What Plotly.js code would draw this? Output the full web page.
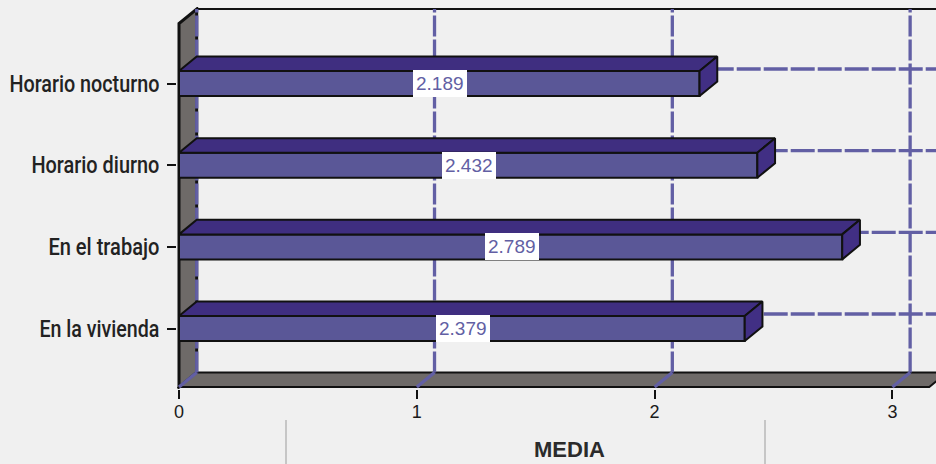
<!DOCTYPE html>
<html>
<head>
<meta charset="utf-8">
<script src="https://cdn.plot.ly/plotly-3.0.1.min.js"></script>
<style>
html,body{margin:0;padding:0;background:#f0f0f0;overflow:hidden}
#chart{width:936px;height:464px}
</style>
</head>
<body>
<div id="chart"></div>
<script>
// Mean score per setting, listed from the bottom of the chart upward
const categories = ['En la vivienda', 'En el trabajo', 'Horario diurno', 'Horario nocturno'];
const means = [2.379, 2.789, 2.432, 2.189];
const meanLabels = ['2.379', '2.789', '2.432', '2.189'];
const xTicks = [0, 1, 2, 3];
const xTickLabels = ['0', '1', '2', '3'];
// Condensed widths for the category labels, in pixels
const labelWidths = [120, 111, 128, 150];

// Faux-3D depth and bar thickness, in axis units
const depthX = 0.0745;
const depthY = 0.178;
const barWidth = 0.306;
const floorEnd = 3.155;
const xRange = [-0.0084, 3.1833];
const yRange = [-0.74, 3.937];
const yFloor = -0.716;
const yTop = 3.912 - depthY;

const ink = '#111111';
const grid = '#625fa4';
const wallGrey = '#6e6a68';
const front = '#5a5797';
const topFace = '#3f2e80';
const sideFace = '#412f84';

function poly(pts) {
  return 'M' + pts.map(p => p[0] + ',' + p[1]).join('L') + 'Z';
}

const shapes = [];
function addShape(s) { shapes.push(Object.assign({xref: 'x', yref: 'y', layer: 'below'}, s)); }

// Left wall and floor
addShape({type: 'path', path: poly([[0, yFloor], [0, yTop], [depthX, yTop + depthY], [depthX, yFloor + depthY]]),
  fillcolor: wallGrey, line: {color: ink, width: 3}});
addShape({type: 'path', path: poly([[0, yFloor], [floorEnd, yFloor], [floorEnd + depthX, yFloor + depthY], [depthX, yFloor + depthY]]),
  fillcolor: wallGrey, line: {color: ink, width: 2}});
// Top edge of the back wall
addShape({type: 'line', x0: depthX, x1: xRange[1], y0: yTop + depthY, y1: yTop + depthY, line: {color: ink, width: 2}});

// Grid lines on the back wall, with the slanted run across the floor
xTicks.forEach(t => {
  addShape({type: 'line', x0: t + depthX, x1: t + depthX, y0: yFloor + depthY, y1: yTop + depthY,
    line: {color: grid, width: 3.3, dash: '21px,3px'}});
  addShape({type: 'line', x0: t, x1: t + depthX, y0: yFloor, y1: yFloor + depthY,
    line: {color: grid, width: 3.3}});
});
categories.forEach((c, i) => {
  addShape({type: 'line', x0: depthX, x1: xRange[1], y0: i + depthY, y1: i + depthY,
    line: {color: grid, width: 3.3, dash: '24px,3px'}});
});

// Light rules either side of the axis title
[[286, 420], [765, 420]].forEach(r => {
  shapes.push({type: 'line', xref: 'paper', yref: 'paper', layer: 'above',
    x0: (r[0] - 177) / 759, x1: (r[0] - 177) / 759,
    y0: (389 - r[1]) / 382, y1: (389 - 464) / 382,
    line: {color: '#c6c6c6', width: 2}});
});

const traces = [{
  type: 'bar', orientation: 'h', y: categories.map((c, i) => i), x: means, width: barWidth,
  marker: {color: front, line: {color: ink, width: 2}}, hoverinfo: 'skip', showlegend: false
}];

// Top and end faces of each bar
means.forEach((v, i) => {
  const hi = i + barWidth / 2, lo = i - barWidth / 2;
  traces.push({type: 'scatter', mode: 'lines', fill: 'toself', fillcolor: topFace, showlegend: false, hoverinfo: 'skip',
    line: {color: ink, width: 2},
    x: [0, depthX, v + depthX, v, 0], y: [hi, hi + depthY, hi + depthY, hi, hi]});
  traces.push({type: 'scatter', mode: 'lines', fill: 'toself', fillcolor: sideFace, showlegend: false, hoverinfo: 'skip',
    line: {color: ink, width: 2},
    x: [v, v + depthX, v + depthX, v, v], y: [hi, hi + depthY, lo + depthY, lo, hi]});
});

const annotations = means.map((v, i) => ({
  x: v / 2, y: i, xref: 'x', yref: 'y', text: meanLabels[i], showarrow: false,
  bgcolor: '#ffffff', borderpad: 3, borderwidth: 0, xshift: 1,
  font: {family: 'Liberation Sans', size: 19, color: grid}
}));
annotations.push({
  xref: 'paper', yref: 'paper', x: (569 - 177) / 759, y: (389 - 450) / 382,
  xanchor: 'center', yanchor: 'middle', text: '<b>MEDIA</b>',
  showarrow: false, borderpad: 0, font: {family: 'Liberation Sans', size: 22, color: '#2b2b2b'}
});

const layout = {
  width: 936, height: 464,
  margin: {l: 177, r: 0, t: 7, b: 75},
  paper_bgcolor: '#f0f0f0', plot_bgcolor: '#f0f0f0',
  showlegend: false,
  xaxis: {
    range: xRange, tickvals: xTicks, ticktext: xTickLabels, showgrid: false, zeroline: false, showline: false,
    ticks: 'outside', ticklen: 9, tickwidth: 2, tickcolor: ink, ticklabelstandoff: -3,
    tickfont: {family: 'Liberation Sans', size: 18, color: '#1a1a1a'}
  },
  yaxis: {
    range: yRange, tickvals: categories.map((c, i) => i), ticktext: categories,
    showgrid: false, zeroline: false, showline: false,
    ticks: 'outside', ticklen: 9, tickwidth: 2, tickcolor: ink, ticklabelstandoff: 3,
    tickfont: {family: 'Roboto', size: 23, weight: 500, color: '#222222'}
  },
  shapes: shapes,
  annotations: annotations
};

Plotly.newPlot('chart', traces, layout, {displayModeBar: false, staticPlot: true}).then(() => {
  // Squeeze the category labels to a condensed set width
  document.querySelectorAll('#chart .ytick text').forEach(el => {
    const i = categories.indexOf(el.textContent);
    if (i >= 0) {
      el.setAttribute('textLength', labelWidths[i]);
      el.setAttribute('lengthAdjust', 'spacingAndGlyphs');
    }
  });
});
</script>
</body>
</html>
